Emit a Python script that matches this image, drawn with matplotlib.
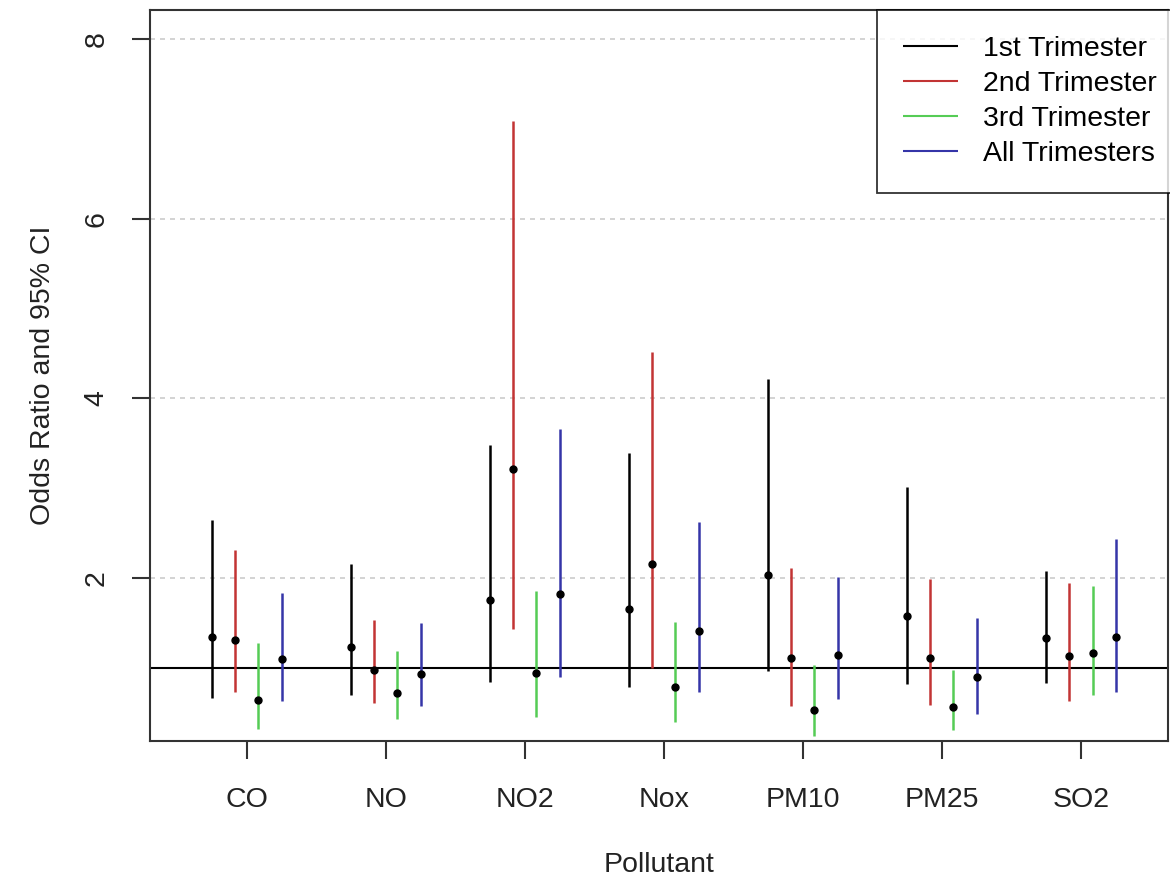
import numpy as np
import matplotlib.pyplot as plt

plt.rcParams['font.family'] = ['Liberation Sans', 'DejaVu Sans']

# Odds ratios and 95% CI
pollutants = ['CO', 'NO', 'NO2', 'Nox', 'PM10', 'PM25', 'SO2']
groups = ['1st Trimester', '2nd Trimester', '3rd Trimester', 'All Trimesters']

or_t1 = [1.35, 1.23, 1.76, 1.66, 2.04, 1.58, 1.34]
lo_t1 = [0.67, 0.70, 0.85, 0.79, 0.97, 0.82, 0.84]
hi_t1 = [2.65, 2.16, 3.48, 3.39, 4.22, 3.02, 2.08]

or_t2 = [1.31, 0.98, 3.21, 2.16, 1.11, 1.11, 1.13]
lo_t2 = [0.73, 0.61, 1.43, 1.00, 0.58, 0.59, 0.64]
hi_t2 = [2.31, 1.54, 7.09, 4.52, 2.11, 1.99, 1.95]

or_t3 = [0.65, 0.72, 0.95, 0.79, 0.53, 0.57, 1.17]
lo_t3 = [0.32, 0.43, 0.46, 0.40, 0.24, 0.31, 0.70]
hi_t3 = [1.28, 1.19, 1.86, 1.51, 1.04, 0.98, 1.91]

or_all = [1.10, 0.94, 1.83, 1.41, 1.15, 0.90, 1.35]
lo_all = [0.63, 0.58, 0.90, 0.73, 0.66, 0.49, 0.74]
hi_all = [1.84, 1.50, 3.66, 2.62, 2.01, 1.56, 2.44]

colors = ['black', '#C23434', '#55CC55', '#3535A8']
offsets = [-0.25, -0.083, 0.083, 0.25]
fs = 20.5

fig = plt.figure(figsize=(11.7, 8.84), dpi=100)
ax = fig.add_axes([0.1282, 0.1618, 0.8701, 0.8269])

x = np.arange(1, len(pollutants) + 1)
series = [(or_t1, lo_t1, hi_t1), (or_t2, lo_t2, hi_t2),
          (or_t3, lo_t3, hi_t3), (or_all, lo_all, hi_all)]

for (est, lo, hi), col, off, lab in zip(series, colors, offsets, groups):
    xs = x + off
    ax.vlines(xs, lo, hi, color=col, lw=1.8, label=lab, zorder=2)
    ax.plot(xs, est, 'o', color='black', ms=5, zorder=3)

ax.axhline(1, color='black', lw=1.5, zorder=1)
for yv in [2, 4, 6, 8]:
    ax.axhline(yv, color='#CCCCCC', lw=1.2, ls=(0, (3, 3)), zorder=0)

ax.set_xlim(0.304, 7.626)
ax.set_ylim(0.19, 8.32)
ax.set_xticks(x)
ax.set_xticklabels(pollutants)
ax.set_yticks([2, 4, 6, 8])
ax.set_yticklabels(['2', '4', '6', '8'], rotation=90, va='center')
ax.tick_params(axis='both', length=13, width=1.5, color='#333333',
               labelsize=fs, labelcolor='#222222', pad=16)
ax.tick_params(axis='x', pad=20)
for sp in ax.spines.values():
    sp.set_linewidth(1.5)
    sp.set_color('#333333')

ax.set_xlabel('Pollutant', fontsize=fs, color='#222222', labelpad=28)
ax.set_ylabel('Odds Ratio and 95% CI', fontsize=fs, color='#222222', labelpad=20)

leg = ax.legend(loc='upper left', bbox_to_anchor=(877 / 1170, 874 / 884),
                bbox_transform=fig.transFigure, fontsize=fs,
                frameon=True, fancybox=False, handlelength=1.93, handletextpad=0.91,
                labelspacing=0.32, borderpad=0.9, borderaxespad=0)
leg.get_frame().set_edgecolor('black')
leg.get_frame().set_linewidth(1.3)
for line in leg.get_lines():
    line.set_linewidth(1.5)

fig.savefig('out.png', dpi=100)
